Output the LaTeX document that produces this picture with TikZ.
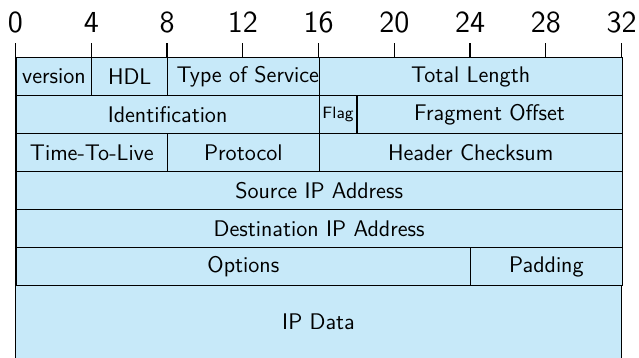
\documentclass[tikz,border=0pt]{standalone}
\usepackage{fontspec}
\definecolor{fieldblue}{RGB}{199,233,249}
\tikzset{
  field/.style={draw=black, fill=fieldblue, line width=0.6pt, anchor=north west,
    inner sep=0pt, minimum height=19pt, font=\sffamily\fontsize{11.3}{13}\selectfont},
  bitnum/.style={font=\sffamily\fontsize{15.3}{17}\selectfont, inner sep=0pt},
  tick/.style={line width=0.6pt, black}
}
\begin{document}
\begin{tikzpicture}[x=9.47pt, y=-19pt]
\useasboundingbox (-0.818,-1.5) rectangle (32.92,7.921);
% bit numbers and ticks
\foreach \b in {0,4,...,32}{
  \node[bitnum] (t\b) at (\b,-0.92) {\b};
  \coordinate (k\b) at (\b,-0.368);
  \coordinate (m\b) at (\b,0);
  \draw[tick] (k\b) -- (m\b);
}
% IP data region (open at the bottom)
\fill[fieldblue] (0,6) rectangle (32,8.1);
\draw[tick] (0,8.1) -- (0,6) -- (32,6) -- (32,8.1);
\node[font=\sffamily\fontsize{11.3}{13}\selectfont] (ipdata) at (16,6.97) {IP Data};
% row 0
\node[field, minimum width=4*9.47pt] (ver) at (0,0) {version};
\node[field, minimum width=4*9.47pt] (hdl) at (4,0) {HDL};
\node[field, minimum width=8*9.47pt] (tos) at (8,0) {\makebox[0pt]{\hspace{4.5pt}Type of Service}};
\node[field, minimum width=16*9.47pt] (tl) at (16,0) {Total Length};
% row 1
\node[field, minimum width=16*9.47pt] (ident) at (0,1) {Identification};
\node[field, minimum width=2*9.47pt, font=\sffamily\fontsize{8.2}{10}\selectfont] (flag) at (16,1) {Flag};
\node[field, minimum width=14*9.47pt] (fo) at (18,1) {Fragment Offset};
% row 2
\node[field, minimum width=8*9.47pt] (ttl) at (0,2) {Time-To-Live};
\node[field, minimum width=8*9.47pt] (proto) at (8,2) {Protocol};
\node[field, minimum width=16*9.47pt] (chk) at (16,2) {Header Checksum};
% row 3, 4
\node[field, minimum width=32*9.47pt] (src) at (0,3) {Source IP Address};
\node[field, minimum width=32*9.47pt] (dst) at (0,4) {Destination IP Address};
% row 5
\node[field, minimum width=24*9.47pt] (opt) at (0,5) {Options};
\node[field, minimum width=8*9.47pt] (pad) at (24,5) {Padding};
\end{tikzpicture}
\end{document}
